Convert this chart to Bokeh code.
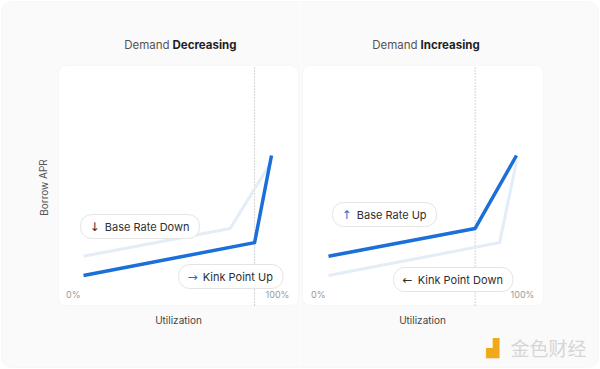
from bokeh.plotting import figure
from bokeh.layouts import row
from bokeh.models import Range1d, Label, BoxAnnotation
from bokeh.embed import file_html
from bokeh.resources import INLINE
from bokeh.core.properties import value

# ---------------- data ----------------
tick_values = [0, 100]
tick_labels = ["0%", "100%"]
y_limits = [0, 100]

# Demand Decreasing panel
dec_new_x = [0, 91, 100]
dec_new_y = [12.5, 26.2, 62.5]
dec_old_x = [0, 78, 100]
dec_old_y = [20.5, 32.1, 60.0]
dec_kink = 91

# Demand Increasing panel
inc_new_x = [0, 78, 100]
inc_new_y = [20.5, 32.1, 62.5]
inc_old_x = [0, 91, 100]
inc_old_y = [12.5, 26.2, 60.0]
inc_kink = 78

FONT = "Inter"
DARK_BLUE = "#1b6fd8"
LIGHT_BLUE = "#e3edf8"
TEXT = "#2f2f2f"
GRAY = "#9a9a9a"
CARD = "#fafafa"

H = 369
BOX_TOP, BOX_BOTTOM = 65, 305          # panel box, canvas px
PX_PER_X, PX_PER_Y = 1.88, 2.4
PAD_H, PAD_V = 10, 5


def make_panel(fig_left, box_left, box_right, zero_px,
               new_x, new_y, old_x, old_y, kink):
    z = zero_px - fig_left
    p = figure(width=300, height=H, title=None,
               x_range=Range1d(-z / PX_PER_X, (300 - z) / PX_PER_X),
               y_range=Range1d(-(H - BOX_BOTTOM) / PX_PER_Y, BOX_BOTTOM / PX_PER_Y),
               x_axis_type=None, y_axis_type=None,
               output_backend="svg", toolbar_location=None,
               min_border=0)
    p.background_fill_color = "white"
    p.border_fill_color = "white"
    p.outline_line_color = None

    # card
    p.add_layout(BoxAnnotation(left=1 - fig_left, right=598 - fig_left, top=H - 1, bottom=2,
                               left_units="screen", right_units="screen",
                               top_units="screen", bottom_units="screen",
                               fill_color=CARD, fill_alpha=1, line_color="#ebebeb",
                               line_width=1, border_radius=10, level="underlay"))
    # panel box
    p.add_layout(BoxAnnotation(left=box_left - fig_left, right=box_right - fig_left,
                               top=H - BOX_TOP, bottom=H - BOX_BOTTOM,
                               left_units="screen", right_units="screen",
                               top_units="screen", bottom_units="screen",
                               fill_color="white", fill_alpha=1, line_color="#ececec",
                               line_width=1, border_radius=8, level="underlay"))

    p.segment(x0=[kink], y0=[y_limits[0]], x1=[kink], y1=[y_limits[1]],
              line_color="#a9a9a9", line_width=1, line_dash="1 2")
    p.line(old_x, old_y, line_color=LIGHT_BLUE, line_width=3, line_join="round")
    p.line(new_x, new_y, line_color=DARK_BLUE, line_width=3.5, line_join="round")

    p.text(x=[tick_values[0]], y=[4.6], text=[tick_labels[0]], x_offset=-3,
           text_align="right", text_baseline="middle", text_font=value(FONT),
           text_font_size="9px", text_color=GRAY)
    p.text(x=[tick_values[1]], y=[4.6], text=[tick_labels[1]], x_offset=6,
           text_align="center", text_baseline="middle", text_font=value(FONT),
           text_font_size="9px", text_color=GRAY)
    return p


def label(p, fig_left, px, py, text, **kw):
    opts = dict(text_font=FONT, text_font_size="11px", text_color=TEXT,
                text_baseline="middle", text_align="left")
    opts.update(kw)
    p.add_layout(Label(x=px - fig_left, y=H - py,
                       x_units="screen", y_units="screen", text=text, **opts))


def pill(p, fig_left, box_left, py, arrow, text, arrow_color):
    label(p, fig_left, box_left, py, "\u2007\u2007" + text,
          background_fill_color="white", border_line_color="#e4e4e4",
          border_line_width=1, padding=(PAD_H, PAD_V), border_radius=11)
    label(p, fig_left, box_left + PAD_H - 1, py, arrow, text_color=arrow_color,
          text_font="DejaVu Sans", text_font_size="12px")


# left panel
p1 = make_panel(0, 58, 298, 83, dec_new_x, dec_new_y, dec_old_x, dec_old_y, dec_kink)
label(p1, 0, 169, 44, "Demand", text_align="right", text_color="#555555",
      text_font_size="11.5px")
label(p1, 0, 172, 44, "Decreasing", text_font_style="bold",
      text_color="#1e1e1e", text_font_size="11.5px")
label(p1, 0, 43, 187, "Borrow APR", text_align="center", angle=1.5708,
      text_color="#555555", text_font_size="10px")
label(p1, 0, 178, 319, "Utilization", text_align="center",
      text_color="#444444", text_font_size="10px")
pill(p1, 0, 80, 226, "\u2193", "Base Rate Down", TEXT)
pill(p1, 0, 178, 276, "\u2192", "Kink Point Up", DARK_BLUE)

# right panel
p2 = make_panel(300, 302, 543, 328, inc_new_x, inc_new_y, inc_old_x, inc_old_y, inc_kink)
label(p2, 300, 417, 44, "Demand", text_align="right", text_color="#555555",
      text_font_size="11.5px")
label(p2, 300, 420, 44, "Increasing", text_font_style="bold",
      text_color="#1e1e1e", text_font_size="11.5px")
label(p2, 300, 422, 319, "Utilization", text_align="center",
      text_color="#444444", text_font_size="10px")
pill(p2, 300, 332, 214, "\u2191", "Base Rate Up", DARK_BLUE)
pill(p2, 300, 393, 279, "\u2190", "Kink Point Down", TEXT)

# watermark
label(p2, 300, 486, 347, "\u259f", text_font="DejaVu Sans",
      text_font_size="17px", text_color="#f2a81d")
label(p2, 300, 510, 347, "\u91d1\u8272\u8d22\u7ecf",
      text_font="Noto Sans CJK SC", text_font_size="19px", text_color="#d6d6d6")

layout = row(p1, p2, spacing=0)
open("out.html", "w").write(file_html(layout, INLINE))
